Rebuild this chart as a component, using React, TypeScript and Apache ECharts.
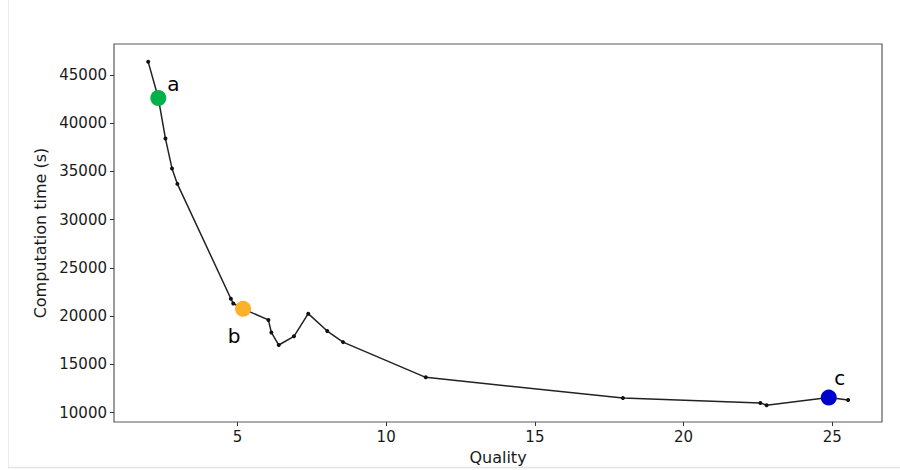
import React, { useEffect, useRef } from "react";
import * as echarts from "echarts";

const quality = [2.0, 2.34, 2.58, 2.8, 2.98, 4.78, 4.86, 5.19, 6.04, 6.14, 6.39, 6.9, 7.38, 8.02, 8.55, 11.33, 17.96, 22.58, 22.79, 24.88, 25.53];
const compTime = [46350, 42600, 38400, 35300, 33700, 21800, 21300, 20750, 19600, 18300, 17000, 17900, 20250, 18450, 17300, 13650, 11500, 11000, 10750, 11550, 11300];

const highlightNames = ["a", "b", "c"];
const highlightX = [2.34, 5.19, 24.88];
const highlightY = [42600, 20750, 11550];
const highlightColors = ["#00b14a", "#fdb02a", "#0000cc"];

const xTicks = [5, 10, 15, 20, 25];
const yTicks = [10000, 15000, 20000, 25000, 30000, 35000, 40000, 45000];

const labelOffsets = [[15, -14], [-9, 27], [11, -20]];

export default function App() {
  const ref = useRef<HTMLDivElement>(null);
  useEffect(() => {
    if (!ref.current) return;
    const chart = echarts.init(ref.current, undefined, { renderer: "svg" });
    const font = "DejaVu Sans";
    chart.setOption({
      animation: false,
      backgroundColor: "#ffffff",
      textStyle: { fontFamily: font },
      grid: {
        left: 114,
        right: 18,
        top: 44,
        bottom: 48,
        show: true,
        borderColor: "#5a5a5a",
        borderWidth: 1.2,
        backgroundColor: "transparent",
      },
      graphic: [
        { type: "line", shape: { x1: 8.5, y1: 0, x2: 8.5, y2: 467 }, style: { stroke: "#ececec", lineWidth: 1 }, silent: true },
        { type: "line", shape: { x1: 8, y1: 467.5, x2: 900, y2: 467.5 }, style: { stroke: "#e4e4e4", lineWidth: 1.5 }, silent: true },
      ],
      xAxis: {
        type: "value",
        min: 0.85,
        max: 26.67,
        name: "Quality",
        nameLocation: "middle",
        nameGap: 27,
        nameTextStyle: { fontSize: 16, color: "#1a1a1a", fontFamily: font },
        axisLine: { show: false },
        splitLine: { show: false },
        axisTick: { show: true, inside: false, length: 4, lineStyle: { color: "#333" }, customValues: xTicks },
        axisLabel: { fontSize: 15, color: "#1a1a1a", margin: 7, fontFamily: font, customValues: xTicks, formatter: (v: number) => String(v) },
      },
      yAxis: {
        type: "value",
        min: 9020,
        max: 48200,
        name: "Computation time (s)",
        nameLocation: "middle",
        nameGap: 64,
        nameTextStyle: { fontSize: 16, color: "#1a1a1a", fontFamily: font },
        axisLine: { show: false },
        splitLine: { show: false },
        axisTick: { show: true, inside: false, length: 4, lineStyle: { color: "#333" }, customValues: yTicks },
        axisLabel: { fontSize: 15, color: "#1a1a1a", margin: 7, fontFamily: font, customValues: yTicks, formatter: (v: number) => String(v) },
      },
      series: [
        {
          type: "line",
          data: quality.map((q, i) => [q, compTime[i]]),
          symbol: "circle",
          symbolSize: 4,
          showSymbol: true,
          itemStyle: { color: "#111" },
          lineStyle: { color: "#222", width: 1.5 },
          z: 2,
        },
        {
          type: "scatter",
          symbolSize: 16,
          z: 3,
          itemStyle: { opacity: 1 },
          data: highlightNames.map((n, i) => ({
            name: n,
            value: [highlightX[i], highlightY[i]],
            itemStyle: { color: highlightColors[i], opacity: 1 },
            label: {
              show: true,
              formatter: n,
              position: "inside",
              offset: labelOffsets[i],
              fontSize: 20,
              color: "#000",
              fontFamily: font,
            },
          })),
        },
      ],
    });
    return () => chart.dispose();
  }, []);
  return (
    <div
      ref={ref}
      style={{ position: "fixed", left: 0, top: 0, width: 900, height: 470, background: "#fff" }}
    />
  );
}
